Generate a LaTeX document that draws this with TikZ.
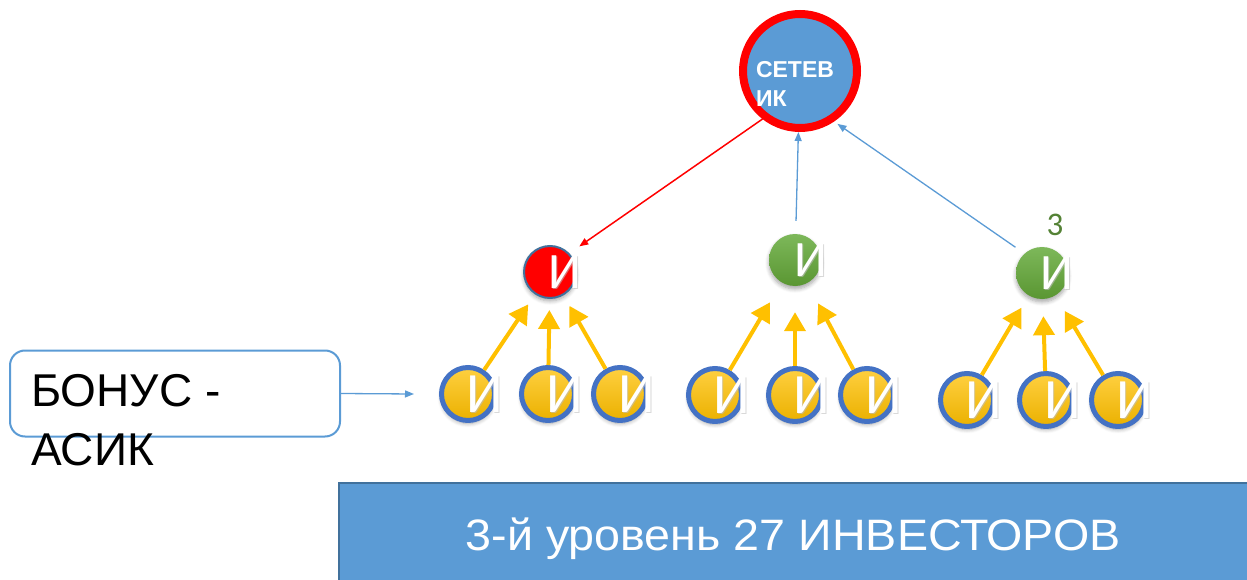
\documentclass[tikz,border=0pt]{standalone}
\usepackage{fontspec}
\setmainfont{Liberation Sans}
\newfontfamily\carl{Carlito}
\usetikzlibrary{arrows.meta,shadows.blur}
\definecolor{sblue}{HTML}{5B9BD5}
\definecolor{dblue}{HTML}{41719C}
\definecolor{rblue}{HTML}{4472C4}
\definecolor{ygold}{HTML}{FFC000}
\definecolor{glight}{HTML}{7DB85A}
\definecolor{gdark}{HTML}{5A9632}
\definecolor{gtext}{HTML}{548235}
\tikzset{
  shad/.style={blur shadow={shadow xshift=0pt,shadow yshift=-3pt,shadow blur steps=6,shadow opacity=35,shadow blur radius=4pt}},
  invb/.style={circle,minimum size=53pt,inner sep=0pt,line width=5pt,draw=rblue,top color=ygold!75!white,bottom color=ygold!92!black,shad},
  invg/.style={circle,minimum size=52pt,inner sep=0pt,draw=none,top color=glight,bottom color=gdark,shad},
  invr/.style={circle,minimum size=52pt,inner sep=0pt,line width=2pt,draw=dblue,fill=red,shad},
  letb/.style={text=white,font=\carl\fontsize{57}{57}\selectfont,inner sep=0pt},
  letm/.style={text=white,font=\carl\fontsize{51}{51}\selectfont,inner sep=0pt},
  letsb/.style={text=black!25,opacity=0.6,font=\carl\fontsize{57}{57}\selectfont,inner sep=0pt},
  letsm/.style={text=black!25,opacity=0.6,font=\carl\fontsize{51}{51}\selectfont,inner sep=0pt},
  yarr/.style={draw=ygold,line width=4pt,-{Triangle[length=19pt,width=21pt]}},
  barr/.style={draw=sblue,line width=1.3pt,-{Triangle[length=9pt,width=7pt]}},
  rarr/.style={draw=red,line width=1.5pt,-{Triangle[length=9pt,width=7pt]}},
}
\begin{document}
\begin{tikzpicture}[x=1pt,y=-1pt]
\useasboundingbox (0,0) rectangle (1247,580);
% top node
\node[circle,minimum size=114pt,inner sep=0pt,line width=8pt,draw=red,fill=sblue,
  label={[text=white,font=\bfseries\fontsize{23}{29}\selectfont,align=left,xshift=-5pt,yshift=-13pt]center:СЕТЕВ\\ИК}] (top) at (800,71) {};
% level 2
\node[invr,label={[letsm,xshift=16.2pt,yshift=-1.2pt]center:И},label={[letm,xshift=15pt]center:И}] (m1) at (550,272) {};
\node[invg,label={[letsm,xshift=17.2pt,yshift=-1.2pt]center:И},label={[letm,xshift=16pt]center:И}] (m2) at (795,260) {};
\node[invg,label={[letsm,xshift=16.2pt,yshift=-1.2pt]center:И},label={[letm,xshift=15pt]center:И}] (m3) at (1042,273) {};
\node[text=gtext,font=\carl\fontsize{33}{33}\selectfont,inner sep=0pt] (three) at (1055,225) {3};
% level 3
\foreach \n/\x/\y in {b1/468/394,b2/548/394,b3/620/394,b4/715/395,b5/795/395,b6/867/395,b7/967/400,b8/1046/400,b9/1118/400}{
  \node[invb,label={[letsb,xshift=18.2pt,yshift=-1.2pt]center:И},label={[letb,xshift=17pt]center:И}] (\n) at (\x,\y) {};
}
% yellow arrows
\draw[yarr,shorten >=12pt] (b1) -- (m1);
\draw[yarr,shorten >=11pt] (b2) -- (m1);
\draw[yarr,shorten >=12pt] (b3) -- (m1);
\draw[yarr,shorten >=23pt] (b4) -- (m2);
\draw[yarr,shorten >=26pt] (b5) -- (m2);
\draw[yarr,shorten >=23pt] (b6) -- (m2);
\draw[yarr,shorten >=14pt] (b7) -- (m3);
\draw[yarr,shorten >=17pt] (b8) -- (m3);
\draw[yarr,shorten >=18pt] (b9) -- (m3);
% upper arrows
\draw[barr,shorten <=13pt] (m2) -- (top);
\draw[barr,shorten <=11pt,shorten >=4pt] (m3.132) -- (top.-56);
\draw[rarr,shorten >=12pt] (top.232) -- (m1.44);
% bonus box
\node[draw=sblue,line width=2pt,rounded corners=15pt,minimum width=330pt,minimum height=86pt,inner sep=0pt] (bonus) at (175,393.5) {};
\node[anchor=north west,align=left,font=\fontsize{46}{59}\selectfont,inner sep=0pt] (btext) at (31,374) {БОНУС -\\АСИК};
\draw[barr] (bonus.east) -- ([xshift=-25pt]b1.west);
% bottom bar
\node[draw=dblue,line width=2pt,fill=sblue,minimum width=911pt,minimum height=100pt,inner sep=0pt,anchor=north west] (bar) at (338,482) {};
\node[text=white,font=\fontsize{44}{44}\selectfont,inner sep=0pt,anchor=base] (bartext) at (793,550) {\scalebox{1.06}[1]{3-й уровень 27 ИНВЕСТОРОВ}};
\end{tikzpicture}
\end{document}
